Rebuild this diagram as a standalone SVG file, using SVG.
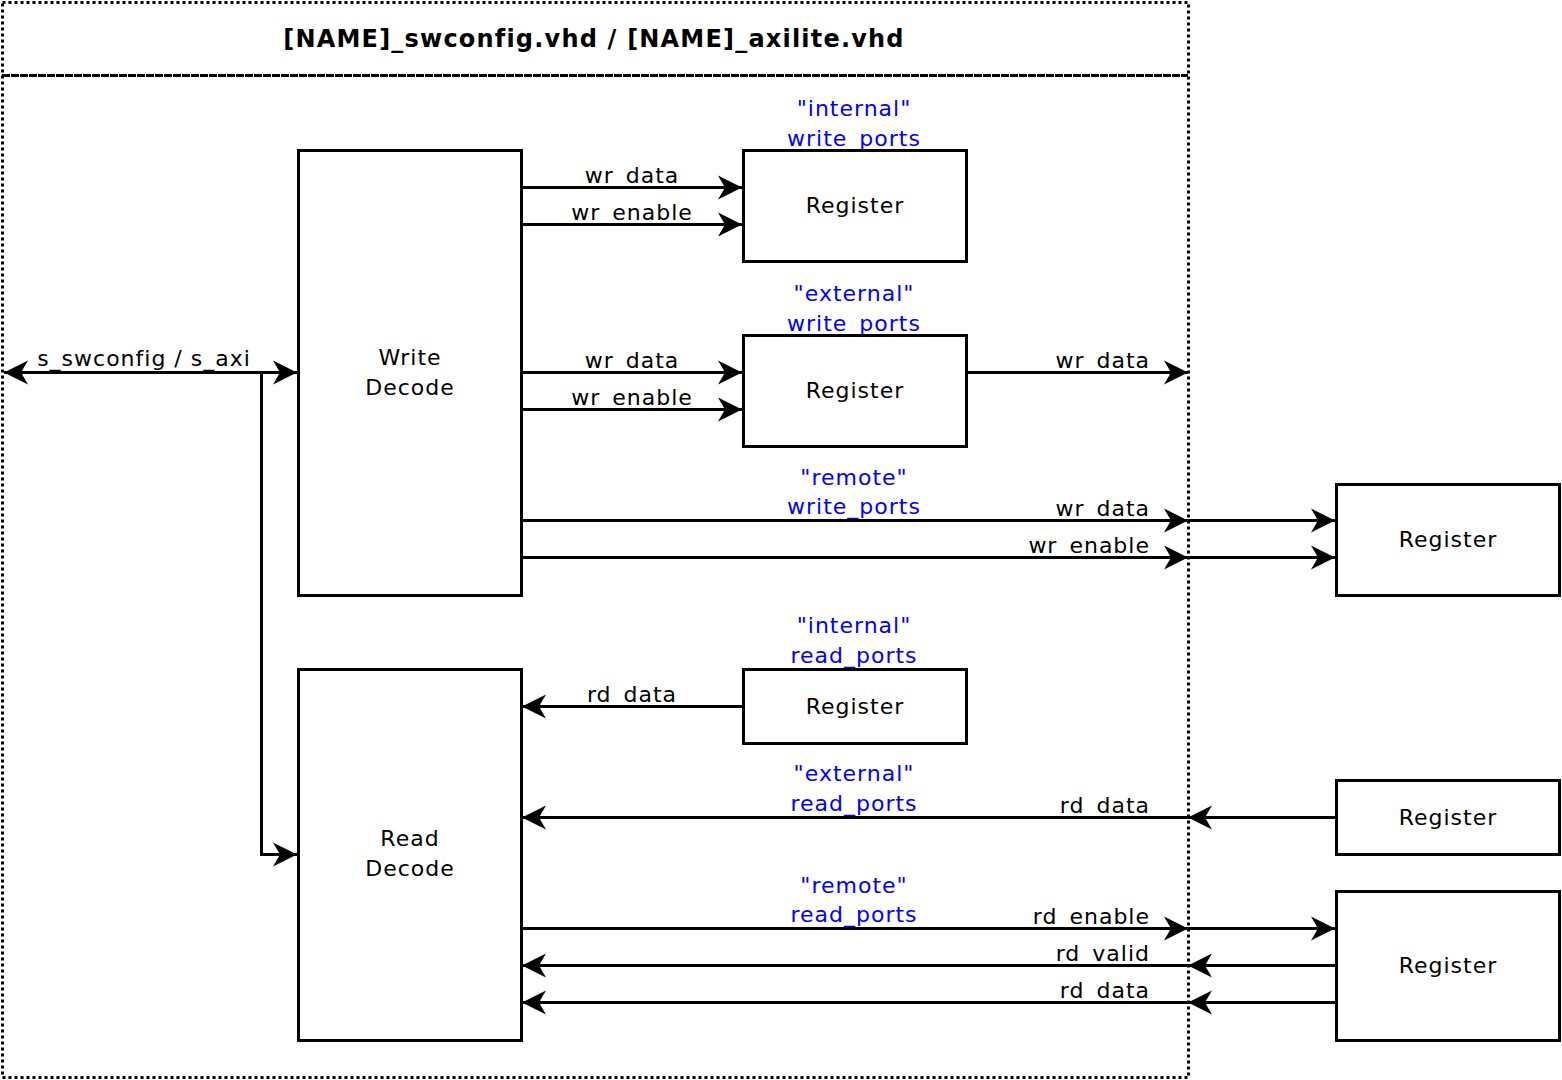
<svg xmlns="http://www.w3.org/2000/svg" width="1562" height="1080" viewBox="0 0 1562 1080">
<style>
text{font-family:"DejaVu Sans","Liberation Sans",sans-serif;font-size:22px;letter-spacing:1px;fill:#000}
.c{text-anchor:middle}
.e{text-anchor:end}
.b{fill:#0000ff}
.t{font-weight:bold;font-size:24px;letter-spacing:1.2px}
.box{fill:#fff;stroke:#000;stroke-width:3}
.ln{fill:none;stroke:#000;stroke-width:3}
.ar{marker-end:url(#ah)}
</style>
<defs>
<marker id="ah" viewBox="-26 -14 28 28" refX="0" refY="0" markerWidth="28" markerHeight="28" markerUnits="userSpaceOnUse" orient="auto-start-reverse">
<path d="M0,0 L-24,-12 L-17,0 L-24,12 Z" fill="#000"/>
</marker>
</defs>
<rect width="1562" height="1080" fill="#fff"/>
<g id="frame">
<rect x="2.5" y="2.5" width="1186" height="1075" fill="none" stroke="#000" stroke-width="3" stroke-dasharray="3 3"/>
<line x1="2" y1="75.5" x2="1188" y2="75.5" stroke="#000" stroke-width="3" stroke-dasharray="8 1"/>
<text class="c t" x="594" y="47">[NAME]_swconfig.vhd / [NAME]_axilite.vhd</text>
</g>
<g id="labels">
<text class="c b" x="854" y="116">"internal"</text><text class="c b" x="854" y="146">write_ports</text>
<text class="c b" x="854" y="301">"external"</text><text class="c b" x="854" y="331">write_ports</text>
<text class="c b" x="854" y="485">"remote"</text><text class="c b" x="854" y="514">write_ports</text>
<text class="c b" x="854" y="633">"internal"</text><text class="c b" x="854" y="663">read_ports</text>
<text class="c b" x="854" y="781">"external"</text><text class="c b" x="854" y="811">read_ports</text>
<text class="c b" x="854" y="893">"remote"</text><text class="c b" x="854" y="922">read_ports</text>
<text class="c" x="144" y="366">s_swconfig / s_axi</text>
<text class="c" x="632" y="183">wr_data</text><text class="c" x="632" y="220">wr_enable</text>
<text class="c" x="632" y="368">wr_data</text><text class="c" x="632" y="405">wr_enable</text>
<text class="e" x="1150" y="368">wr_data</text>
<text class="e" x="1150" y="516">wr_data</text><text class="e" x="1150" y="553">wr_enable</text>
<text class="c" x="632" y="702">rd_data</text>
<text class="e" x="1150" y="813">rd_data</text>
<text class="e" x="1150" y="924">rd_enable</text><text class="e" x="1150" y="961">rd_valid</text><text class="e" x="1150" y="998">rd_data</text>
</g>
<g id="write-decode"><rect class="box" x="298.5" y="150.5" width="223" height="445"/><text class="c" x="410" y="365">Write</text><text class="c" x="410" y="395">Decode</text></g>
<g id="read-decode"><rect class="box" x="298.5" y="669.5" width="223" height="371"/><text class="c" x="410" y="846">Read</text><text class="c" x="410" y="876">Decode</text></g>
<g id="reg-int-wr"><rect class="box" x="743.5" y="150.5" width="223" height="111"/><text class="c" x="855" y="213">Register</text></g>
<g id="reg-ext-wr"><rect class="box" x="743.5" y="335.5" width="223" height="111"/><text class="c" x="855" y="398">Register</text></g>
<g id="reg-rem-wr"><rect class="box" x="1336.5" y="484.5" width="223" height="111"/><text class="c" x="1448" y="547">Register</text></g>
<g id="reg-int-rd"><rect class="box" x="743.5" y="669.5" width="223" height="74"/><text class="c" x="855" y="714">Register</text></g>
<g id="reg-ext-rd"><rect class="box" x="1336.5" y="780.5" width="223" height="74"/><text class="c" x="1448" y="825">Register</text></g>
<g id="reg-rem-rd"><rect class="box" x="1336.5" y="891.5" width="223" height="149"/><text class="c" x="1448" y="973">Register</text></g>
<g id="connectors">
<line class="ln ar" x1="4" y1="372.5" x2="297" y2="372.5" marker-start="url(#ah)"/>
<polyline class="ln ar" points="261.5,372.5 261.5,854.5 297,854.5"/>
<line class="ln ar" x1="521" y1="187.5" x2="742" y2="187.5"/>
<line class="ln ar" x1="521" y1="224.5" x2="742" y2="224.5"/>
<line class="ln ar" x1="521" y1="372.5" x2="742" y2="372.5"/>
<line class="ln ar" x1="521" y1="409.5" x2="742" y2="409.5"/>
<line class="ln ar" x1="966" y1="372.5" x2="1188" y2="372.5"/>
<line class="ln ar" x1="521" y1="520.5" x2="1188" y2="520.5"/>
<line class="ln ar" x1="1188" y1="520.5" x2="1335" y2="520.5"/>
<line class="ln ar" x1="521" y1="557.5" x2="1188" y2="557.5"/>
<line class="ln ar" x1="1188" y1="557.5" x2="1335" y2="557.5"/>
<line class="ln ar" x1="743" y1="706.5" x2="522" y2="706.5"/>
<line class="ln ar" x1="1336" y1="817.5" x2="1188" y2="817.5"/>
<line class="ln ar" x1="1188" y1="817.5" x2="522" y2="817.5"/>
<line class="ln ar" x1="521" y1="928.5" x2="1188" y2="928.5"/>
<line class="ln ar" x1="1188" y1="928.5" x2="1335" y2="928.5"/>
<line class="ln ar" x1="1336" y1="965.5" x2="1188" y2="965.5"/>
<line class="ln ar" x1="1188" y1="965.5" x2="522" y2="965.5"/>
<line class="ln ar" x1="1336" y1="1002.5" x2="1188" y2="1002.5"/>
<line class="ln ar" x1="1188" y1="1002.5" x2="522" y2="1002.5"/>
</g>
</svg>
